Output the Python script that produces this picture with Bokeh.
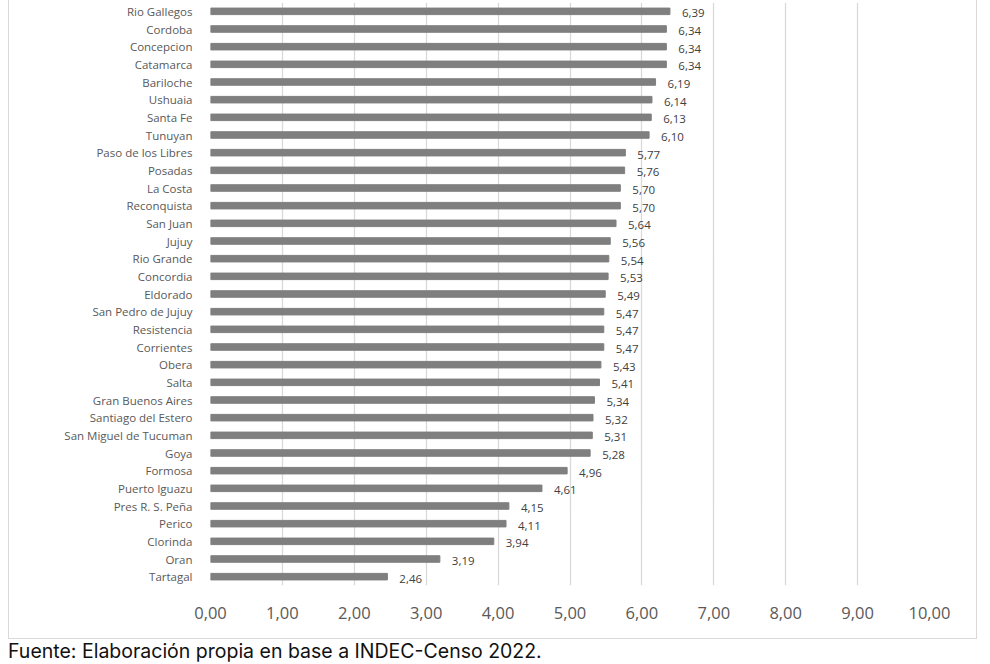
from bokeh.plotting import figure
from bokeh.models import ColumnDataSource, FactorRange, Range1d, FixedTicker, Div
from bokeh.layouts import column
from bokeh.core.properties import value
from bokeh.embed import file_html
from bokeh.resources import INLINE

cities = ["Rio Gallegos", "Cordoba", "Concepcion", "Catamarca", "Bariloche", "Ushuaia",
          "Santa Fe", "Tunuyan", "Paso de los Libres", "Posadas", "La Costa", "Reconquista",
          "San Juan", "Jujuy", "Rio Grande", "Concordia", "Eldorado", "San Pedro de Jujuy",
          "Resistencia", "Corrientes", "Obera", "Salta", "Gran Buenos Aires",
          "Santiago del Estero", "San Miguel de Tucuman", "Goya", "Formosa", "Puerto Iguazu",
          "Pres R. S. Peña", "Perico", "Clorinda", "Oran", "Tartagal"]
values = [6.39, 6.34, 6.34, 6.34, 6.19, 6.14, 6.13, 6.10, 5.77, 5.76, 5.70, 5.70,
          5.64, 5.56, 5.54, 5.53, 5.49, 5.47, 5.47, 5.47, 5.43, 5.41, 5.34,
          5.32, 5.31, 5.28, 4.96, 4.61, 4.15, 4.11, 3.94, 3.19, 2.46]
value_labels = [f"{v:.2f}".replace(".", ",") for v in values]
ticks = list(range(0, 11))
tick_labels = [f"{t},00" for t in ticks]
source_text = "Fuente: Elaboración propia en base a INDEC-Censo 2022."

src = ColumnDataSource(dict(city=cities, val=values, lab=value_labels))

box_css = """
:host::after {
  content: "";
  position: absolute;
  left: 8px;
  top: -10px;
  width: 969px;
  height: 649px;
  border: 1.3px solid #d9d9d9;
  pointer-events: none;
}
"""

fig = figure(width=990, height=640, output_backend="svg", toolbar_location=None,
             y_range=FactorRange(factors=list(reversed(cities)), range_padding=0),
             x_range=Range1d(0, 10),
             min_border_left=210, min_border_right=61, min_border_top=2, min_border_bottom=55)
fig.stylesheets = [box_css]
fig.outline_line_color = None
fig.background_fill_color = "white"
fig.border_fill_color = "white"

fig.hbar(y="city", right="val", left=0, height=0.37, source=src, color="#7f7f7f")
fig.text(x="val", y="city", text="lab", source=src, x_offset=12, y_offset=2,
         text_font=value("Open Sans"), text_font_size="11.5px", text_color="#404040",
         text_baseline="middle", text_align="left")

fig.ygrid.grid_line_color = None
fig.xgrid.grid_line_color = "#d9d9d9"
fig.xgrid.grid_line_width = 1.3
fig.xaxis.ticker = FixedTicker(ticks=ticks)
fig.xaxis.major_label_overrides = {t: s for t, s in zip(ticks, tick_labels)}
for ax in (fig.xaxis, fig.yaxis):
    ax.axis_line_color = None
    ax.major_tick_line_color = None
    ax.minor_tick_line_color = None
fig.xaxis.major_label_text_font = "Open Sans"
fig.xaxis.major_label_text_font_size = "16.5px"
fig.xaxis.major_label_text_color = "#595959"
fig.xaxis.major_label_standoff = 15
fig.yaxis.major_label_text_font = "Open Sans"
fig.yaxis.major_label_text_font_size = "11.5px"
fig.yaxis.major_label_text_color = "#595959"
fig.yaxis.major_label_standoff = 12

cap = Div(text=source_text, width=990, height=24, margin=(0, 0, 0, 0),
          styles={"font-family": "Inter", "font-size": "19.5px", "color": "#111111",
                  "line-height": "22px", "padding-left": "8px", "white-space": "nowrap"})

p = column(fig, cap, spacing=0)

open("out.html", "w").write(file_html(p, INLINE))
